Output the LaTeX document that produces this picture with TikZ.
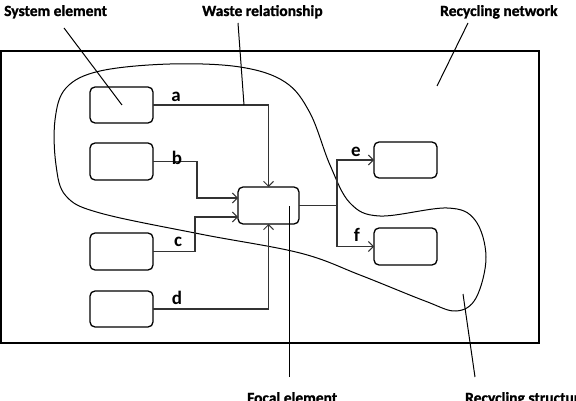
\documentclass[tikz,border=0pt]{standalone}
\usepackage{fontspec}
\setmainfont{Carlito}
\newfontfamily\heavyfont[FakeBold=1.2]{Carlito}
\usetikzlibrary{arrows.meta}
\definecolor{ln}{HTML}{333333}
\begin{document}
\begin{tikzpicture}[x=1pt,y=-1pt,
  elem/.style={draw=black,line width=1.3pt,rounded corners=5pt,minimum width=63pt,minimum height=36pt,inner sep=0pt,outer sep=0pt},
  flow/.style={draw=ln,line width=1.1pt,-{Straight Barb[length=5pt,width=10pt,line width=1pt]}},
  seg/.style={draw=ln,line width=1.1pt},
  lead/.style={draw=black,line width=1pt},
  lab/.style={font=\fontsize{19}{19}\selectfont\bfseries,inner sep=0pt},
  ttl/.style={font=\fontsize{15.5}{16}\selectfont\heavyfont\bfseries,inner sep=0pt,anchor=base west}]
\useasboundingbox (0,0) rectangle (576,401);
\fill[white] (0,0) rectangle (576,401);
% outer rectangle
\draw[line width=1.4pt] (1,51) rectangle (539,343);
% recycling structure curve
\draw[line width=1pt] plot[smooth cycle,tension=0.6] coordinates {
 (55,120) (66,88) (100,71) (170,64) (240,67) (285,82) (310,113) (330,165)
 (350,203) (380,216) (447,208) (475,220) (486,257) (476,298) (456,311)
 (425,301) (360,275) (300,253) (200,234) (100,213) (66,196) (56,165)};
% elements
\node[elem] (a) at (121.5,105) {};
\node[elem,minimum height=37pt] (b) at (121.5,161.5) {};
\node[elem,minimum height=37pt] (c) at (121.5,251.5) {};
\node[elem] (d) at (121.5,309) {};
\node[elem,minimum width=61pt,minimum height=37pt] (foc) at (268.5,205.5) {};
\node[elem] (e) at (405.5,160) {};
\node[elem,minimum height=37pt] (f) at (405.5,246.5) {};
% connectors
\draw[flow] (a.east) -| (foc.north);
\draw[flow] (b.east) -- ++(44,0) |- ([yshift=7.5pt]foc.west);
\draw[flow] (c.east) -- ++(42,0) |- ([yshift=-11.5pt]foc.west);
\draw[flow] (d.east) -| (foc.south);
\draw[seg] (foc.east) -- ++(38,0) coordinate (j);
\draw[flow] (j) |- (e.west);
\draw[flow] (j) |- (f.west);
% labels
\node[lab] (la) at (176,97) {a};
\node[lab] (lb) at (177,158) {b};
\node[lab] (lc) at (178,242) {c};
\node[lab] (ld) at (177,298) {d};
\node[lab] (le) at (356,152) {e};
\node[lab] (lf) at (357,235) {f};
% titles
\node[ttl] (tse) at (4,16) {System element};
\node[ttl] (twr) at (202,16) {Waste relationship};
\node[ttl] (trn) at (440,16) {Recycling network};
\node[ttl] (tfe) at (247,403) {Focal element};
\node[ttl] (trs) at (465,403) {Recycling structure};
% leaders
\coordinate (s1) at (64,28); \coordinate (s2) at (122,105);
\coordinate (w1) at (238,23); \coordinate (w2) at (244,105);
\coordinate (n1) at (468,23); \coordinate (n2) at (437,86);
\coordinate (f1) at (289,377); \coordinate (f2) at (289,206);
\coordinate (r1) at (475,377); \coordinate (r2) at (463,294);
\draw[lead] (s1) -- (s2);
\draw[lead] (w1) -- (w2);
\draw[lead] (n1) -- (n2);
\draw[lead] (f1) -- (f2);
\draw[lead] (r1) -- (r2);
\end{tikzpicture}
\end{document}
